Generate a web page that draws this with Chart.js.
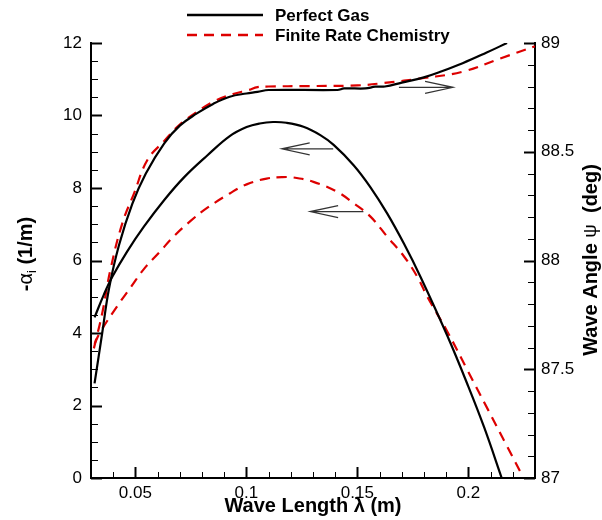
<!DOCTYPE html>
<html>
<head>
<meta charset="utf-8">
<script src="https://cdn.jsdelivr.net/npm/chart.js@4.4.1/dist/chart.umd.min.js"></script>
<style>
  html, body { margin: 0; padding: 0; background: #fff; }
</style>
</head>
<body>
<canvas id="graficoOnda" width="602" height="520"></canvas>
<script>
// Perfect gas: growth rate -alpha_i (1/m) vs wave length (m)
const gasAlphaLambda = [0.0316, 0.0358, 0.0396, 0.0464, 0.0539, 0.0630, 0.0720, 0.0826, 0.0925, 0.1001, 0.1060, 0.1120, 0.1180, 0.1257, 0.1333, 0.1393, 0.1483, 0.1559, 0.1634, 0.1710, 0.1785, 0.1906, 0.1996, 0.2072, 0.2150];
const gasAlpha       = [4.43, 5.06, 5.55, 6.26, 6.94, 7.67, 8.30, 8.91, 9.43, 9.68, 9.78, 9.82, 9.80, 9.69, 9.46, 9.19, 8.63, 8.02, 7.30, 6.46, 5.54, 3.91, 2.58, 1.38, 0.00];

// Perfect gas: wave angle psi (deg)
const gasPsiLambda = [0.0316, 0.0351, 0.0381, 0.0426, 0.0486, 0.0547, 0.0630, 0.0700, 0.0775, 0.0850, 0.0925, 0.1000, 0.1050, 0.1100, 0.1410, 0.1440, 0.1536, 0.1580, 0.1624, 0.1700, 0.1799, 0.1880, 0.1974, 0.2080, 0.2174];
const gasPsi       = [87.435, 87.67, 87.87, 88.07, 88.26, 88.40, 88.539, 88.62, 88.675, 88.72, 88.753, 88.768, 88.775, 88.784, 88.784, 88.791, 88.791, 88.799, 88.800, 88.818, 88.842, 88.870, 88.907, 88.955, 89.000];

// Finite rate chemistry: -alpha_i
const chemAlphaLambda = [0.0316, 0.0343, 0.0419, 0.0479, 0.0539, 0.0607, 0.0675, 0.0750, 0.0823, 0.0925, 0.1001, 0.1091, 0.1160, 0.1212, 0.1302, 0.1408, 0.1483, 0.1559, 0.1634, 0.1710, 0.1770, 0.1815, 0.1906, 0.1996, 0.2087, 0.2177, 0.2245];
const chemAlpha       = [3.70, 4.04, 4.75, 5.26, 5.77, 6.22, 6.68, 7.10, 7.45, 7.85, 8.10, 8.26, 8.30, 8.29, 8.17, 7.90, 7.58, 7.21, 6.66, 6.11, 5.55, 5.00, 4.03, 2.97, 1.90, 0.84, 0.04];

// Finite rate chemistry: psi
const chemPsiLambda = [0.0313, 0.0351, 0.0388, 0.0441, 0.0494, 0.0554, 0.0630, 0.0700, 0.0780, 0.0860, 0.0940, 0.1010, 0.1050, 0.1100, 0.1274, 0.1500, 0.1620, 0.1800, 0.1974, 0.2147, 0.2300];
const chemPsi       = [87.596, 87.76, 87.96, 88.171, 88.309, 88.462, 88.55, 88.625, 88.685, 88.735, 88.765, 88.784, 88.797, 88.800, 88.802, 88.805, 88.816, 88.839, 88.868, 88.930, 88.985];

// axes
const xTicks = [0.05, 0.1, 0.15, 0.2];
const alphaTicks = [0, 2, 4, 6, 8, 10, 12];
const psiTicks = [87, 87.5, 88, 88.5, 89];

// arrows: which axis each curve belongs to
const arrowAxis  = ['y2', 'y', 'y'];
const arrowFrom  = [0.1687, 0.1391, 0.1527];
const arrowTo    = [0.1931, 0.1159, 0.1287];
const arrowLevel = [88.796, 9.08, 7.35];

const fuente = "'Liberation Sans', Arial, Helvetica, sans-serif";
const rojo = 'rgb(221, 0, 0)';

function puntos(xs, ys) {
    return xs.map((v, i) => ({ x: v, y: ys[i] }));
}

// ticks pointing inwards, major + minor
const ticksDentro = {
    id: 'ticksDentro',
    afterDraw(chart) {
        const ctx = chart.ctx;
        const { x, y, y2 } = chart.scales;
        const area = chart.chartArea;
        ctx.save();
        ctx.strokeStyle = '#000';

        function marca(px, py, dx, dy, w) {
            ctx.lineWidth = w;
            ctx.beginPath();
            ctx.moveTo(px, py);
            ctx.lineTo(px + dx, py + dy);
            ctx.stroke();
        }
        // x axis
        for (let v = 0.03; v <= 0.2301; v += 0.01) {
            const px = Math.round(x.getPixelForValue(v)) + 0.5;
            const mayor = xTicks.some(t => Math.abs(t - v) < 1e-6);
            marca(px, area.bottom, 0, mayor ? -11 : -6, mayor ? 2 : 1);
        }
        // left axis
        for (let v = 0; v <= 12.001; v += 0.5) {
            const py = Math.round(y.getPixelForValue(v)) + 0.5;
            const mayor = alphaTicks.some(t => Math.abs(t - v) < 1e-6);
            marca(area.left, py, mayor ? 11 : 7, 0, mayor ? 2 : 1);
        }
        // right axis
        for (let v = 87; v <= 89.001; v += 0.1) {
            const py = Math.round(y2.getPixelForValue(v)) + 0.5;
            const mayor = psiTicks.some(t => Math.abs(t - v) < 1e-6);
            marca(area.right, py, mayor ? -11 : -7, 0, mayor ? 2 : 1);
        }
        ctx.restore();
    }
};

// arrows that tell which axis a curve uses
const flechas = {
    id: 'flechas',
    afterDatasetsDraw(chart) {
        const ctx = chart.ctx;
        const sx = chart.scales.x;
        ctx.save();
        ctx.strokeStyle = '#333';
        ctx.lineWidth = 1.2;
        arrowAxis.forEach((eje, i) => {
            const sy = chart.scales[eje];
            const x1 = sx.getPixelForValue(arrowFrom[i]);
            const x2 = sx.getPixelForValue(arrowTo[i]);
            const py = sy.getPixelForValue(arrowLevel[i]);
            const dir = x2 > x1 ? 1 : -1;
            ctx.beginPath();
            ctx.moveTo(x1, py);
            ctx.lineTo(x2, py);
            ctx.moveTo(x2 - dir * 28, py - 6);
            ctx.lineTo(x2, py);
            ctx.lineTo(x2 - dir * 28, py + 6);
            ctx.stroke();
        });
        ctx.restore();
    }
};

// legend lines + the two y axis titles
const textos = {
    id: 'textos',
    afterDraw(chart) {
        const ctx = chart.ctx;
        ctx.save();
        ctx.fillStyle = '#000';

        // legend
        const filas = [0, 2];
        filas.forEach((d, i) => {
            const ds = chart.data.datasets[d];
            const yy = 15 + i * 20;
            ctx.strokeStyle = ds.borderColor;
            ctx.lineWidth = 2.5;
            ctx.setLineDash(ds.borderDash || []);
            ctx.beginPath();
            ctx.moveTo(187, yy);
            ctx.lineTo(263, yy);
            ctx.stroke();
            ctx.setLineDash([]);
            ctx.font = 'bold 17px ' + fuente;
            ctx.textAlign = 'left';
            ctx.textBaseline = 'middle';
            ctx.fillText(ds.label, 275, yy + 1);
        });

        // left title: -alpha_i (1/m)
        ctx.save();
        ctx.translate(26, 254);
        ctx.rotate(-Math.PI / 2);
        ctx.textBaseline = 'middle';
        ctx.textAlign = 'left';
        const fBig = 'bold 20px ' + fuente;
        const fSym = '20px ' + fuente;
        const fSub = '13px ' + fuente;
        ctx.font = fBig; const w1 = ctx.measureText('-').width;
        ctx.font = fSym; const w2 = ctx.measureText('α').width;
        ctx.font = fSub; const w3 = ctx.measureText('i').width;
        ctx.font = fBig; const w4 = ctx.measureText(' (1/m)').width;
        let px = -(w1 + w2 + w3 + w4) / 2;
        ctx.font = fBig; ctx.fillText('-', px, 0); px += w1;
        ctx.font = fSym; ctx.fillText('α', px, 0); px += w2;
        ctx.font = fSub; ctx.fillText('i', px, 6); px += w3;
        ctx.font = fBig; ctx.fillText(' (1/m)', px, 0);
        ctx.restore();

        // right title, reads bottom to top
        ctx.save();
        ctx.translate(591, 260);
        ctx.rotate(-Math.PI / 2);
        ctx.textBaseline = 'middle';
        ctx.textAlign = 'left';
        const partes = ['Wave Angle ', '\u03c8', '  (deg)'];
        const fuentes = ['bold 20px ' + fuente, '19px ' + fuente, 'bold 20px ' + fuente];
        const anchos = partes.map((t, k) => { ctx.font = fuentes[k]; return ctx.measureText(t).width; });
        let rx = -anchos.reduce((a, b) => a + b, 0) / 2;
        partes.forEach((t, k) => {
            ctx.font = fuentes[k];
            ctx.fillText(t, rx, 0);
            rx += anchos[k];
        });
        ctx.restore();

        ctx.restore();
    }
};

const ctxOnda = document.getElementById('graficoOnda').getContext('2d');

const comun = { pointRadius: 0, borderWidth: 2.2, tension: 0.4 };

const chartOnda = new Chart(ctxOnda, {
    type: 'line',
    data: {
        datasets: [
            Object.assign({
                label: 'Perfect Gas',
                data: puntos(gasAlphaLambda, gasAlpha),
                yAxisID: 'y',
                borderColor: '#000'
            }, comun),
            Object.assign({
                label: 'Perfect Gas psi',
                data: puntos(gasPsiLambda, gasPsi),
                yAxisID: 'y2',
                borderColor: '#000'
            }, comun),
            Object.assign({
                label: 'Finite Rate Chemistry',
                data: puntos(chemAlphaLambda, chemAlpha),
                yAxisID: 'y',
                borderColor: rojo,
                borderDash: [10, 7]
            }, comun),
            Object.assign({
                label: 'Finite Rate Chemistry psi',
                data: puntos(chemPsiLambda, chemPsi),
                yAxisID: 'y2',
                borderColor: rojo,
                borderDash: [10, 7]
            }, comun)
        ]
    },
    options: {
        responsive: false,
        devicePixelRatio: 1,
        animation: false,
        layout: { padding: { top: 43, left: 0, right: 0, bottom: 0 } },
        plugins: {
            legend: { display: false },
            tooltip: { enabled: false }
        },
        scales: {
            x: {
                type: 'linear',
                min: 0.03,
                max: 0.23,
                afterBuildTicks: s => { s.ticks = xTicks.map(v => ({ value: v })); },
                afterFit: s => { s.height = 42; },
                grid: { display: false, drawTicks: false },
                border: { display: true, color: '#000', width: 2 },
                ticks: {
                    color: '#000',
                    padding: 5,
                    maxRotation: 0,
                    font: { family: fuente, size: 17 },
                    callback: v => String(v)
                },
                title: {
                    display: true,
                    text: 'Wave Length λ (m)',
                    color: '#000',
                    padding: { top: 0, bottom: 2 },
                    font: { family: fuente, size: 20, weight: 'bold' }
                }
            },
            y: {
                type: 'linear',
                position: 'left',
                min: 0,
                max: 12,
                afterBuildTicks: s => { s.ticks = alphaTicks.map(v => ({ value: v })); },
                afterFit: s => { s.width = 91; },
                grid: { display: false, drawTicks: false },
                border: { display: true, color: '#000', width: 2 },
                ticks: { color: '#000', padding: 9, font: { family: fuente, size: 17 }, callback: v => String(v) }
            },
            y2: {
                type: 'linear',
                position: 'right',
                min: 87,
                max: 89,
                afterBuildTicks: s => { s.ticks = psiTicks.map(v => ({ value: v })); },
                afterFit: s => { s.width = 67; },
                grid: { display: false, drawTicks: false },
                border: { display: true, color: '#000', width: 2 },
                ticks: { color: '#000', padding: 6, font: { family: fuente, size: 17 }, callback: v => String(v) }
            }
        }
    },
    plugins: [flechas, ticksDentro, textos]
});
</script>
</body>
</html>
